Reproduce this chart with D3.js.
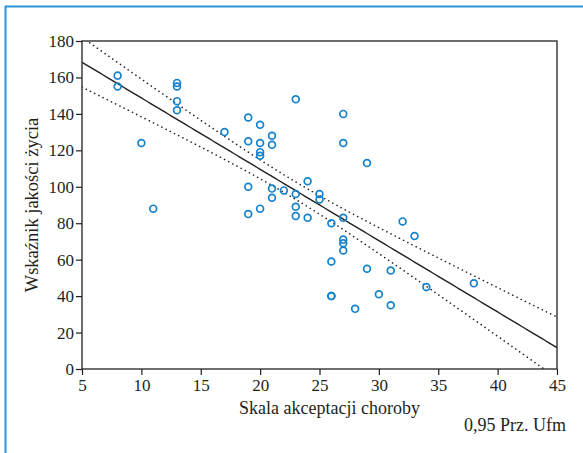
<!DOCTYPE html>
<html>
<head>
<meta charset="utf-8">
<script src="https://cdn.jsdelivr.net/npm/d3@7"></script>
<style>
  html, body { margin:0; padding:0; background:#fff; }
  svg { display:block; }
  svg text { font-family:"Liberation Serif", "Times New Roman", Tinos, "DejaVu Serif", "Noto Serif", serif !important; fill:#231f20; }
</style>
</head>
<body>
<svg id="chart" width="583" height="453"></svg>
<script>
// acceptance scale (x) and quality of life index (y)
const akceptacja = [8,8,10,11,13,13,13,13,17,19,19,19,19,20,20,20,20,20,21,21,21,21,22,23,23,23,23,24,24,25,25,26,26,26,26,27,27,27,27,27,27,28,29,29,30,31,31,32,33,34,38];
const jakosc     = [161,155,124,88,157,155,147,142,130,138,125,100,85,134,124,119,117,88,128,123,99,94,98,148,96,89,84,103,83,96,93,80,59,40,40,140,124,83,71,69,65,33,113,55,41,54,35,81,73,45,47];

const xTicks = [5,10,15,20,25,30,35,40,45];
const yTicks = [0,20,40,60,80,100,120,140,160,180];
const xLabel = "Skala akceptacji choroby";
const yLabel = "Wskaźnik jakości życia";
const bandLabel = "0,95 Prz. Ufm";
// fitted line as drawn in the chart: intercept, slope
const fitCoef = [187.9, -3.915];
// half width of the 95% band is k*sqrt(1/n + (x-mean)^2/Sxx); k
const bandK = 34.3;

const svg = d3.select("#chart");
const x = d3.scaleLinear().domain([5,45]).range([82,557]);
const y = d3.scaleLinear().domain([0,180]).range([369,41]);

// blue page frame
svg.append("path").attr("d","M5.5,453 V6.5 H583").attr("fill","none")
  .attr("stroke","#2d95d6").attr("stroke-width",2);

svg.append("defs").append("clipPath").attr("id","plot")
  .append("rect").attr("x",x(5)).attr("y",y(180)).attr("width",x(45)-x(5)).attr("height",y(0)-y(180));

const n = akceptacja.length;
const mx = d3.mean(akceptacja);
const sxx = d3.sum(akceptacja, v => (v-mx)*(v-mx));
const fit = v => fitCoef[0] + fitCoef[1]*v;
const half = v => bandK*Math.sqrt(1/n + (v-mx)*(v-mx)/sxx);

const xs = d3.range(5, 45.01, 0.25);
const line = d3.line().x(d=>x(d[0])).y(d=>y(d[1]));
const lines = svg.append("g").attr("clip-path","url(#plot)").attr("fill","none");
lines.append("path").attr("d", line(xs.map(v=>[v, fit(v)])))
  .attr("stroke","#231f20").attr("stroke-width",1.4);
[1,-1].forEach(s => {
  lines.append("path").attr("d", line(xs.map(v=>[v, fit(v)+s*half(v)])))
    .attr("stroke","#231f20").attr("stroke-width",1.6)
    .attr("stroke-dasharray","0.1,4.6").attr("stroke-linecap","round");
});

// points
svg.append("g").selectAll("circle").data(akceptacja).enter().append("circle")
  .attr("cx", d=>x(d)).attr("cy", (d,i)=>y(jakosc[i])).attr("r",3.4)
  .attr("fill","none").attr("stroke","#1582cc").attr("stroke-width",1.7);

// plot frame
svg.append("rect").attr("x",x(5)).attr("y",y(180)).attr("width",x(45)-x(5)).attr("height",y(0)-y(180))
  .attr("fill","none").attr("stroke","#231f20").attr("stroke-width",1.3);

// axes
const ax = svg.append("g").attr("transform",`translate(0,${y(0)})`)
  .call(d3.axisBottom(x).tickValues(xTicks).tickSize(6).tickPadding(4));
const ay = svg.append("g").attr("transform",`translate(${x(5)},0)`)
  .call(d3.axisLeft(y).tickValues(yTicks).tickSize(6).tickPadding(2));
[ax, ay].forEach(a => {
  a.attr("font-family", null);
  a.select(".domain").remove();
  a.selectAll("line").attr("stroke","#231f20").attr("stroke-width",1.2);
  a.selectAll("text").style("font-size","17px").attr("fill","#231f20");
});

svg.append("text").attr("x",(x(5)+x(45))/2+10).attr("y",414).attr("text-anchor","middle")
  .style("font-size","18px").text(xLabel);
svg.append("text").attr("transform",`translate(38,${(y(0)+y(180))/2}) rotate(-90)`).attr("text-anchor","middle")
  .style("font-size","18.5px").text(yLabel);
svg.append("text").attr("x",566).attr("y",431).attr("text-anchor","end")
  .style("font-size","18px").text(bandLabel);
</script>
</body>
</html>
